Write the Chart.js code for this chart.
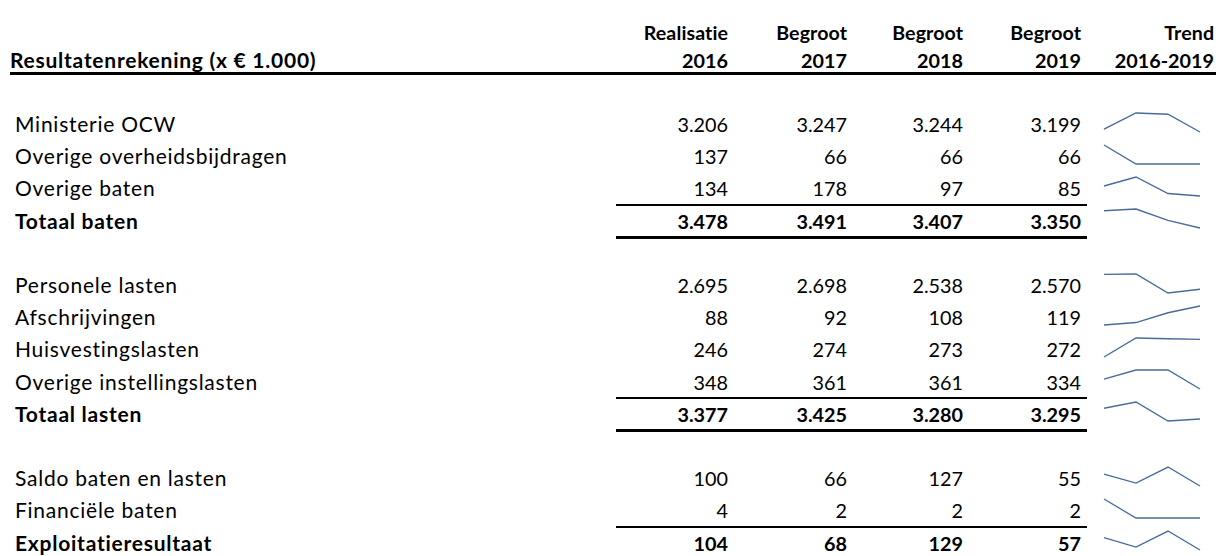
<!DOCTYPE html>
<html><head><meta charset="utf-8">
<script src="https://cdn.jsdelivr.net/npm/chart.js@4.4.0/dist/chart.umd.min.js"></script>
<style>
html,body{margin:0;padding:0;background:#fff;}
body{width:1216px;height:556px;position:relative;overflow:hidden;font-family:Lato,'Open Sans',sans-serif;color:#000;}
.t{position:absolute;white-space:nowrap;line-height:26px;height:26px;}
.w{font-size:21px;letter-spacing:0.75px;}
.h{font-size:19.6px;letter-spacing:0.1px;}
.n{font-size:19.8px;}
.b{font-weight:700;}
.hl{position:absolute;background:#000;}
canvas{position:absolute;}
</style></head><body>
<script>
// ---- data ----
const tableTitle = 'Resultatenrekening (x € 1.000)';
const headerTop = ['Realisatie', 'Begroot', 'Begroot', 'Begroot', 'Trend'];
const headerBottom = ['2016', '2017', '2018', '2019', '2016-2019'];
const years = ['2016', '2017', '2018', '2019'];

const ministerieOCW = [3206, 3247, 3244, 3199];
const overigeOverheidsbijdragen = [137, 66, 66, 66];
const overigeBaten = [134, 178, 97, 85];
const totaalBaten = [3478, 3491, 3407, 3350];
const personeleLasten = [2695, 2698, 2538, 2570];
const afschrijvingen = [88, 92, 108, 119];
const huisvestingslasten = [246, 274, 273, 272];
const overigeInstellingslasten = [348, 361, 361, 334];
const totaalLasten = [3377, 3425, 3280, 3295];
const saldoBatenLasten = [100, 66, 127, 55];
const financieleBaten = [4, 2, 2, 2];
const exploitatieresultaat = [104, 68, 129, 57];

// rows: [label, values, bold, lineAbove, lineBelow]
const rows = [
  ['Ministerie OCW', ministerieOCW, false, false, false],
  ['Overige overheidsbijdragen', overigeOverheidsbijdragen, false, false, false],
  ['Overige baten', overigeBaten, false, false, false],
  ['Totaal baten', totaalBaten, true, true, true],
  null,
  ['Personele lasten', personeleLasten, false, false, false],
  ['Afschrijvingen', afschrijvingen, false, false, false],
  ['Huisvestingslasten', huisvestingslasten, false, false, false],
  ['Overige instellingslasten', overigeInstellingslasten, false, false, false],
  ['Totaal lasten', totaalLasten, true, true, true],
  null,
  ['Saldo baten en lasten', saldoBatenLasten, false, false, false],
  ['Financiële baten', financieleBaten, false, false, false],
  ['Exploitatieresultaat', exploitatieresultaat, true, true, false]
];

// ---- layout ----
const W = 1216;
const colRight = [728, 847, 963, 1081, 1214];
const firstRowY = 124.5, rowStep = 32.2;
const sparkLeft = 1104, sparkWidth = 96, sparkUp = 12, sparkDown = 7, pad = 3;
const lineColor = '#4b6a9b';

function fmt(n) {
  const s = String(Math.abs(n));
  let out = '';
  for (let i = 0; i < s.length; i++) {
    if (i > 0 && (s.length - i) % 3 === 0) out += '.';
    out += s[i];
  }
  return (n < 0 ? '-' : '') + out;
}
function text(str, cy, opts) {
  const d = document.createElement('div');
  const numeric = /^[0-9.\-]+$/.test(str);
  const cls = numeric ? 'n' : (opts.header ? 'h' : 'w');
  d.className = 't ' + cls + (opts.bold ? ' b' : '');
  d.textContent = str;
  d.style.top = (cy - 13.5) + 'px';
  if (opts.left !== undefined) d.style.left = opts.left + 'px';
  if (opts.right !== undefined) {
    d.style.right = (W - opts.right - (cls === 'w' ? 0.75 : cls === 'h' ? 0.1 : 0)) + 'px';
    d.style.textAlign = 'right';
  }
  document.body.appendChild(d);
}
function hline(x1, x2, y, h) {
  const d = document.createElement('div');
  d.className = 'hl';
  d.style.left = x1 + 'px'; d.style.width = (x2 - x1) + 'px';
  d.style.top = y + 'px'; d.style.height = h + 'px';
  document.body.appendChild(d);
}

// header
text(tableTitle, 60, {left: 10, bold: true});
headerTop.forEach((h, i) => text(h, 33, {right: colRight[i], bold: true, header: true}));
headerBottom.forEach((h, i) => text(h, 60, {right: colRight[i], bold: true, header: true}));
hline(10, W, 72, 3);

// body
rows.forEach((row, i) => {
  if (!row) return;
  const [label, vals, bold, above, below] = row;
  const cy = firstRowY + rowStep * i;
  text(label, cy, {left: 15, bold});
  vals.forEach((v, j) => text(fmt(v), cy, {right: colRight[j], bold}));
  if (above) hline(616, 1087, Math.round(cy - 17.5), 1.5);
  if (below) hline(616, 1087, Math.round(cy + 15), 3);

  const cv = document.createElement('canvas');
  const cw = sparkWidth + 2 * pad, ch = sparkUp + sparkDown + 2 * pad;
  cv.width = cw; cv.height = ch;
  cv.style.width = cw + 'px'; cv.style.height = ch + 'px';
  cv.style.left = (sparkLeft - pad) + 'px';
  cv.style.top = (cy - sparkUp - pad) + 'px';
  document.body.appendChild(cv);
  new Chart(cv, {
    type: 'line',
    data: {labels: years, datasets: [{data: vals, borderColor: lineColor, borderWidth: 1.4, pointRadius: 0, tension: 0, fill: false, clip: false}]},
    options: {
      responsive: false, animation: false, devicePixelRatio: 1,
      layout: {padding: pad},
      plugins: {legend: {display: false}, tooltip: {enabled: false}},
      scales: {
        x: {display: false, offset: false},
        y: {display: false, min: Math.min(...vals), max: Math.max(...vals)}
      }
    }
  });
});
</script>
</body></html>
